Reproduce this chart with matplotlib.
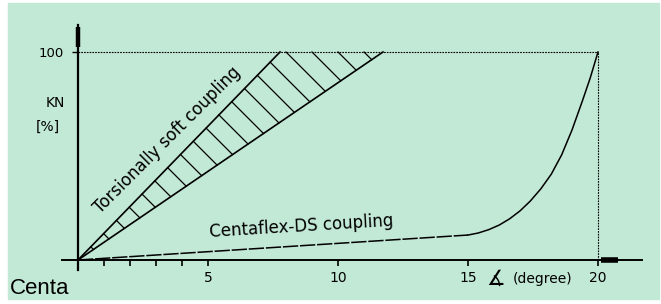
import numpy as np
import matplotlib.pyplot as plt
from matplotlib.patches import Rectangle

# torsionally soft coupling band: angle (degree) at which 100 % KN is reached
soft_upper = [0, 7.77]
soft_lower = [0, 11.73]
soft_kn = [0, 100]

# Centaflex-DS characteristic (linear part, then progressive part)
ds_angle = [0, 5, 10, 15, 15.4, 15.8, 16.2, 16.6, 17.0, 17.4, 17.8, 18.2, 18.6, 19.0, 19.4, 19.7, 20]
ds_kn = [0, 4, 8, 12, 13.0, 14.6, 16.8, 19.8, 23.6, 28.4, 34.2, 41.2, 50.5, 62.5, 76.5, 87.5, 100]

major_ticks = [5, 10, 15, 20]
minor_ticks = [1, 2, 3, 4]
hatch_steps = list(range(1, 20))

green = '#c2e8d6'

fig = plt.figure(figsize=(6.61, 3.04), dpi=100)
fig.patches.append(Rectangle((8 / 661, 5 / 304), 651 / 661, 296 / 304,
                             transform=fig.transFigure, color=green, zorder=-10))

ax = fig.add_axes([50 / 661, 29 / 304, 590 / 661, 255 / 304])
ax.set_zorder(1)
ax.patch.set_alpha(0)
ax.set_xlim(-1.077, 21.615)
ax.set_ylim(-7.21, 115.38)

for s in ['top', 'right']:
    ax.spines[s].set_visible(False)
ax.spines['bottom'].set_position(('data', 0))
ax.spines['left'].set_position(('data', 0))
ax.spines['bottom'].set_bounds(-0.6, 21.7)
ax.spines['left'].set_bounds(-4.8, 113)
ax.spines['bottom'].set_linewidth(1.4)
ax.spines['left'].set_linewidth(1.6)

ax.set_xticks(major_ticks)
ax.set_xticks(minor_ticks, minor=True)
ax.set_yticks([100])
ax.tick_params(axis='x', which='both', direction='out', length=4, width=1.2,
               labelsize=10, pad=4)
ax.tick_params(axis='y', direction='out', length=4, width=1.0, labelsize=9.5, pad=6)

# arrow heads on the axes
ax.plot([20.1, 20.75], [0, 0], color='k', lw=4, solid_capstyle='butt')
ax.plot([0, 0], [102.5, 112], color='k', lw=3.2, solid_capstyle='butt')

# dotted guide lines at 100 %
ax.plot([0, ds_angle[-1]], [100, 100], color='k', lw=0.8, ls=(0, (1.5, 1)))
ax.plot([ds_angle[-1], ds_angle[-1]], [0, 100], color='k', lw=0.8, ls=(0, (1.5, 1)))

# soft coupling band boundaries
ax.plot(soft_upper, soft_kn, color='k', lw=1.2)
ax.plot(soft_lower, soft_kn, color='k', lw=1.2)

# hatching at 45 degrees on screen
fig.canvas.draw()
p0 = ax.transData.transform((0, 0))
p1 = ax.transData.transform((1, 1))
k = (p1[0] - p0[0]) / (p1[1] - p0[1])
m1 = soft_kn[1] / soft_upper[1]
m2 = soft_kn[1] / soft_lower[1]
for n in hatch_steps:
    x1 = k * n / (m1 + k)
    y1 = m1 * x1
    if y1 > 100:
        x1 = n - 100 / k
        y1 = 100
    x2 = k * n / (m2 + k)
    y2 = m2 * x2
    if y2 > 100:
        continue
    ax.plot([x1, x2], [y1, y2], color='k', lw=0.9)

# Centaflex-DS curve
ax.plot(ds_angle[:4], ds_kn[:4], color='k', lw=1.1, dashes=(10, 1.2))
ax.plot(ds_angle[3:], ds_kn[3:], color='k', lw=1.1)

ax.text(3.43, 57.7, 'Torsionally soft coupling', rotation=45, fontsize=12,
        ha='center', va='center', rotation_mode='anchor')
ax.text(8.6, 16, 'Centaflex-DS coupling', rotation=3.5, fontsize=12,
        ha='center', va='center', rotation_mode='anchor')

ax.text(-0.88, 75.5, 'KN', fontsize=10, ha='center', va='center')
ax.text(-1.15, 64, '[%]', fontsize=10, ha='center', va='center')

ax.text(16.08, -9, '\u2221', fontsize=15, ha='center', va='center')
ax.text(17.85, -9, '(degree)', fontsize=10, ha='center', va='center')

fig.text(10 / 661, 1 - 294 / 304, 'Centa', fontsize=16, family='Liberation Sans',
         ha='left', va='baseline')

fig.savefig('out.png', dpi=100, facecolor='white')
